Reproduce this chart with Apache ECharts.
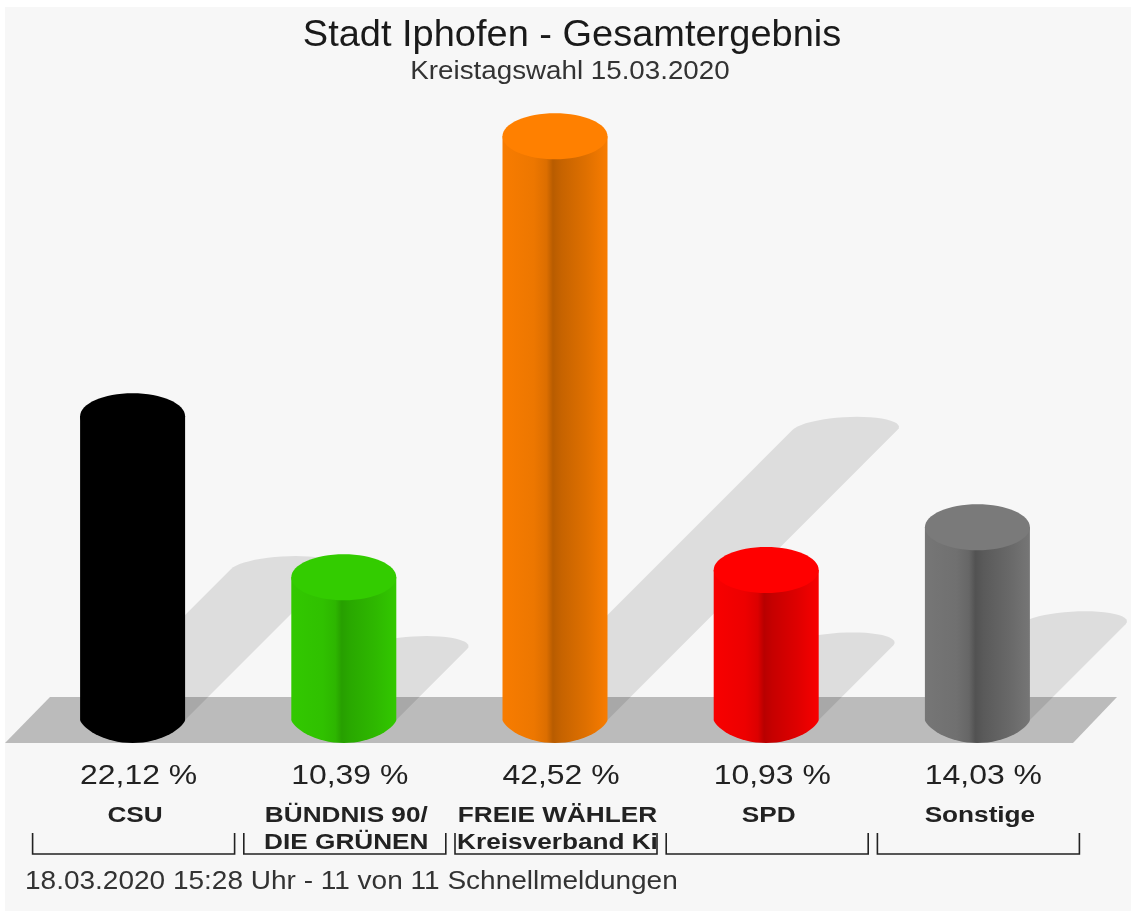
<!DOCTYPE html>
<html>
<head>
<meta charset="utf-8">
<title>Stadt Iphofen - Gesamtergebnis</title>
<style>
  html, body { margin: 0; padding: 0; background: #fff; }
  #chart { width: 1131px; height: 911px; }
</style>
<script src="https://cdn.jsdelivr.net/npm/echarts@6/dist/echarts.min.js"></script>
</head>
<body>
<div id="chart"></div>
<script>
var categories = ['CSU', 'BÜNDNIS 90/\nDIE GRÜNEN', 'FREIE WÄHLER\nKreisverband Ki', 'SPD', 'Sonstige'];
var values = [22.12, 10.39, 42.52, 10.93, 14.03];
var baseColors = ['#000000', '#33cc00', '#ff8000', '#ff0000', '#7a7a7a'];
var darkColors = ['#000000', '#279f00', '#b85c00', '#b80000', '#525252'];
var titleText = 'Stadt Iphofen - Gesamtergebnis';
var subText = 'Kreistagswahl 15.03.2020';
var footerText = '18.03.2020 15:28 Uhr - 11 von 11 Schnellmeldungen';

var FONT = '"Liberation Sans", Arial, sans-serif';
var RX = 52.5, RY = 23;

function percentLabel(v) {
  return v.toFixed(2).replace('.', ',') + ' %';
}

function sideGradient(i) {
  var mix = function(k) { return echarts.color.lerp(k, [baseColors[i], darkColors[i]]); };
  return new echarts.graphic.LinearGradient(0, 0, 1, 0, [
    { offset: 0, color: mix(0.1) },
    { offset: 0.3, color: mix(0.25) },
    { offset: 0.42, color: mix(0.5) },
    { offset: 0.48, color: mix(1) },
    { offset: 0.56, color: mix(0.8) },
    { offset: 0.8, color: mix(0.45) },
    { offset: 1, color: mix(0.1) }
  ]);
}

// floor the bars stand on, hangs off the zero line
function renderGround(params, api) {
  var y = api.coord([0, 0])[1];
  return {
    type: 'polygon',
    shape: { points: [[5, y + 23], [50, y - 23], [1117, y - 23], [1073, y + 23]] },
    style: { fill: '#bbbbbb' }
  };
}

// shadow falls at 45 deg, half as long as the bar
function renderShadow(params, api) {
  var i = api.value(0);
  var base = api.coord([i, 0]);
  var top = api.coord([i, api.value(1)]);
  var len = (base[1] - top[1]) * 0.497;
  var cx = base[0] + len, cy = base[1] - len;
  var pts = [[base[0] - RX, base[1]]];
  for (var a = 0; a <= 24; a++) {
    var t = Math.PI - Math.PI * a / 24;
    pts.push([cx + RX * Math.cos(t) + 12 * Math.sin(t), cy - 13 * Math.sin(t)]);
  }
  pts.push([base[0] + RX, base[1]]);
  return {
    type: 'polygon',
    shape: { points: pts },
    style: { fill: 'rgba(0,0,0,0.1)' }
  };
}

function renderColumn(params, api) {
  var i = api.value(0);
  var v = api.value(1);
  var base = api.coord([i, 0]);
  var top = api.coord([i, v]);
  var pts = [[base[0] - RX, top[1]], [base[0] + RX, top[1]]];
  for (var a = 0; a <= 32; a++) {
    var t = Math.PI * a / 32;
    // bottom edge is more pointed at the shoulders than a true ellipse
    pts.push([base[0] + RX * Math.cos(t), base[1] + RY * Math.pow(Math.sin(t), 1.4)]);
  }
  return {
    type: 'group',
    children: [{
      type: 'polygon',
      shape: { points: pts },
      style: { fill: sideGradient(i) }
    }, {
      type: 'ellipse',
      shape: { cx: top[0], cy: top[1], rx: RX, ry: RY },
      style: { fill: baseColors[i] }
    }, {
      type: 'text',
      x: base[0] + 6,
      y: base[1] + 56,
      scaleX: 1.14,
      style: {
        text: percentLabel(v),
        font: '28px ' + FONT,
        fill: '#222222',
        align: 'center', verticalAlign: 'middle'
      }
    }, {
      type: 'text',
      x: base[0] + 2.5,
      y: base[1] + 82,
      scaleX: 1.19,
      style: {
        text: categories[i],
        font: 'bold 22px ' + FONT,
        lineHeight: 27,
        fill: '#222222',
        align: 'center', verticalAlign: 'top'
      }
    }, {
      type: 'polyline',
      shape: { points: [
        [base[0] - 100, base[1] + 113],
        [base[0] - 100, base[1] + 134],
        [base[0] + 102, base[1] + 134],
        [base[0] + 102, base[1] + 113]
      ] },
      style: { stroke: '#222222', lineWidth: 1.6, fill: 'none' }
    }]
  };
}

var myChart = echarts.init(document.getElementById('chart'), null, { renderer: 'canvas' });
var seriesData = values.map(function(v, i) { return [i, v]; });

myChart.setOption({
  animation: false,
  backgroundColor: '#ffffff',
  grid: { left: 27, width: 1056, top: 33.5, height: 686.5 },
  xAxis: {
    type: 'category',
    data: categories,
    axisLine: { show: false },
    axisTick: { show: false },
    axisLabel: { show: false }
  },
  yAxis: { type: 'value', min: 0, max: 50, show: false },
  graphic: [{
    type: 'rect',
    z: -10,
    shape: { x: 5, y: 7, width: 1126, height: 904 },
    style: { fill: '#f7f7f7' }
  }, {
    type: 'text',
    x: 572,
    y: 36,
    scaleX: 1.055,
    style: { text: titleText, font: '36px ' + FONT, fill: '#1a1a1a', align: 'center', verticalAlign: 'middle' }
  }, {
    type: 'text',
    x: 570,
    y: 72,
    scaleX: 1.11,
    style: { text: subText, font: '25px ' + FONT, fill: '#333333', align: 'center', verticalAlign: 'middle' }
  }, {
    type: 'text',
    x: 25,
    y: 882,
    scaleX: 1.12,
    style: { text: footerText, font: '25px ' + FONT, fill: '#333333', align: 'left', verticalAlign: 'middle' }
  }],
  series: [
    { type: 'custom', z: 1, data: [[0]], renderItem: renderGround, silent: true },
    { type: 'custom', z: 2, data: seriesData, renderItem: renderShadow, silent: true },
    { type: 'custom', z: 3, data: seriesData, renderItem: renderColumn, silent: true }
  ]
});
</script>
</body>
</html>
